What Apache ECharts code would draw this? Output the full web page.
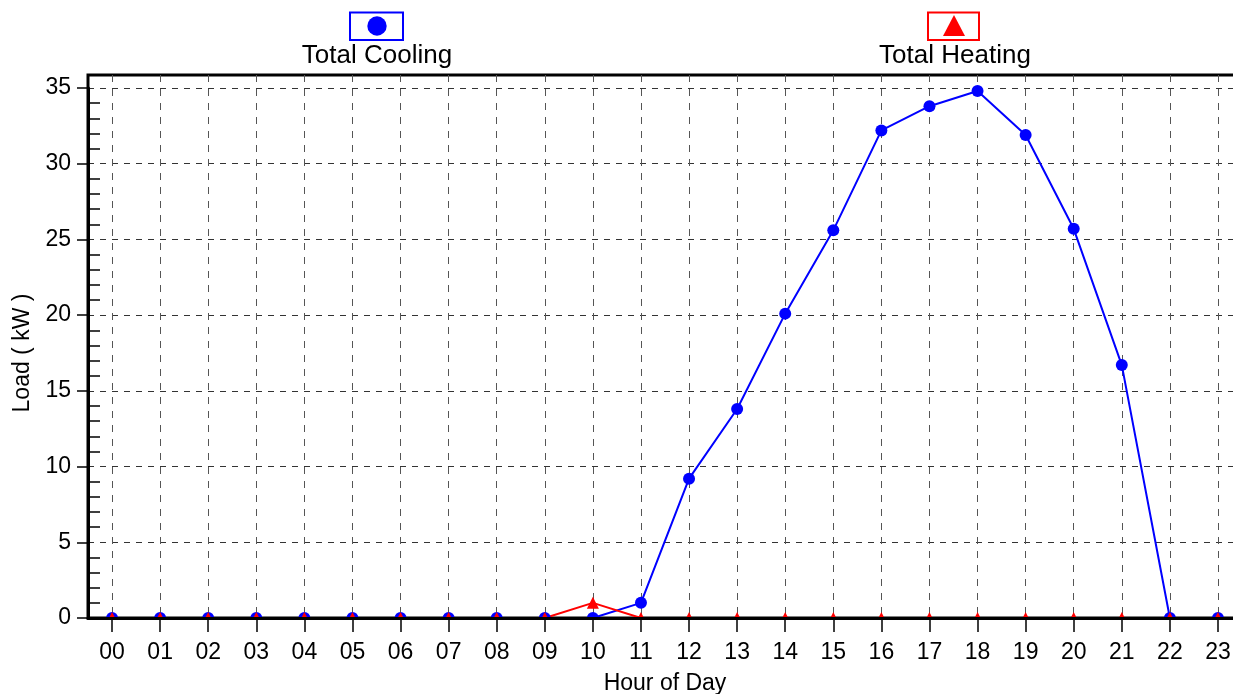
<!DOCTYPE html>
<html>
<head>
<meta charset="utf-8">
<script src="https://cdn.jsdelivr.net/npm/echarts@6/dist/echarts.min.js"></script>
<style>
  html, body { margin: 0; padding: 0; background: #fff; }
  #chart { width: 1233px; height: 694px; }
</style>
</head>
<body>
<div id="chart"></div>
<script>
// hour labels on the x axis
const hours = ['00', '01', '02', '03', '04', '05', '06', '07', '08', '09', '10', '11',
  '12', '13', '14', '15', '16', '17', '18', '19', '20', '21', '22', '23'];
// loads in kW
const totalCooling = [0, 0, 0, 0, 0, 0, 0, 0, 0, 0, 0, 1.0,
  9.2, 13.8, 20.1, 25.6, 32.2, 33.8, 34.8, 31.9, 25.7, 16.7, 0, 0];
const totalHeating = [0, 0, 0, 0, 0, 0, 0, 0, 0, 0, 1.0, 0,
  0, 0, 0, 0, 0, 0, 0, 0, 0, 0, 0, 0];
// y axis range / step
const loadMin = 0;
const loadMax = 35;
const loadStep = 5;

const FONT = '"Liberation Sans", Arial, sans-serif';
const chart = echarts.init(document.getElementById('chart'));

const plotLeft = 88;
const plotWidth = 1154; // runs past the right edge of the picture
const plotBottom = 76;

const option = {
  animation: false,
  backgroundColor: '#fff',
  textStyle: { fontFamily: FONT, color: '#000' },
  grid: [
    // outer frame, goes a bit higher than the 35 line
    { left: plotLeft, width: plotWidth, top: 75, bottom: plotBottom, outerBoundsMode: 'none',
      show: true, borderColor: '#000', borderWidth: 3, backgroundColor: 'transparent' },
    // data area
    { left: plotLeft, width: plotWidth, top: 88, bottom: plotBottom, outerBoundsMode: 'none' }
  ],
  xAxis: [
    {
      gridIndex: 0,
      type: 'category',
      data: hours,
      axisLine: { show: false },
      axisTick: { show: false },
      axisLabel: { show: false },
      splitLine: {
        show: true,
        alignWithLabel: true,
        lineStyle: { color: '#555', type: [7, 7], width: 1 }
      }
    },
    {
      gridIndex: 1,
      type: 'category',
      data: hours,
      zlevel: 2,
      name: 'Hour of Day',
      nameLocation: 'middle',
      nameGap: 54,
      nameTextStyle: { fontSize: 23, color: '#000', fontFamily: FONT },
      axisLine: { lineStyle: { color: '#000', width: 3 } },
      axisTick: { show: true, alignWithLabel: true, length: 14, lineStyle: { color: '#000', width: 1.5 } },
      axisLabel: { fontSize: 23, color: '#000', margin: 23, fontFamily: FONT },
      splitLine: { show: false }
    }
  ],
  yAxis: [
    {
      gridIndex: 0,
      type: 'value',
      min: 0,
      max: 1,
      show: false,
      splitLine: { show: false }
    },
    {
      gridIndex: 1,
      type: 'value',
      min: loadMin,
      max: loadMax,
      interval: loadStep,
      name: 'Load ( kW )',
      nameLocation: 'middle',
      nameGap: 46,
      nameTextStyle: { fontSize: 23, color: '#000', fontFamily: FONT },
      axisLine: { show: true, lineStyle: { color: '#000', width: 3 } },
      axisTick: { show: true, length: 11, lineStyle: { color: '#000', width: 1.5 } },
      minorTick: { show: true, splitNumber: 5, length: -12, lineStyle: { color: '#000', width: 1.5 } },
      axisLabel: { fontSize: 23, color: '#000', margin: 17, fontFamily: FONT },
      splitLine: { show: true, lineStyle: { color: '#333', type: [6, 6], width: 1 } }
    }
  ],
  graphic: [
    // hides the lower half of markers sitting on the zero line
    { type: 'rect', zlevel: 1, z: 3, silent: true,
      shape: { x: plotLeft + 2, y: 619.5, width: 1233 - plotLeft, height: 9 },
      style: { fill: '#fff' } },
    // legend: Total Cooling
    { type: 'rect', z: 10, shape: { x: 350, y: 12.5, width: 53, height: 27.5 },
      style: { fill: '#fff', stroke: '#0000ff', lineWidth: 2 } },
    { type: 'circle', z: 11, shape: { cx: 377, cy: 26, r: 9.7 }, style: { fill: '#0000ff' } },
    { type: 'text', z: 10, x: 377, y: 56,
      style: { text: 'Total Cooling', font: '26px ' + FONT, fill: '#000', align: 'center', verticalAlign: 'middle' } },
    // legend: Total Heating
    { type: 'rect', z: 10, shape: { x: 928, y: 12.5, width: 51, height: 27.5 },
      style: { fill: '#fff', stroke: '#ff0000', lineWidth: 2 } },
    { type: 'polygon', z: 11, shape: { points: [[954, 15], [943, 36], [965, 36]] }, style: { fill: '#ff0000' } },
    { type: 'text', z: 10, x: 955, y: 56,
      style: { text: 'Total Heating', font: '26px ' + FONT, fill: '#000', align: 'center', verticalAlign: 'middle' } }
  ],
  series: [
    {
      name: 'Total Cooling',
      type: 'line',
      xAxisIndex: 1,
      yAxisIndex: 1,
      data: totalCooling,
      symbol: 'circle',
      symbolSize: 12,
      showAllSymbol: true,
      clip: false,
      lineStyle: { color: '#0000ff', width: 2 },
      itemStyle: { color: '#0000ff' }
    },
    {
      name: 'Total Heating',
      type: 'line',
      xAxisIndex: 1,
      yAxisIndex: 1,
      data: totalHeating,
      symbol: 'triangle',
      symbolSize: 12,
      showAllSymbol: true,
      clip: false,
      lineStyle: { color: '#ff0000', width: 2 },
      itemStyle: { color: '#ff0000' }
    }
  ]
};

chart.setOption(option);
</script>
</body>
</html>
